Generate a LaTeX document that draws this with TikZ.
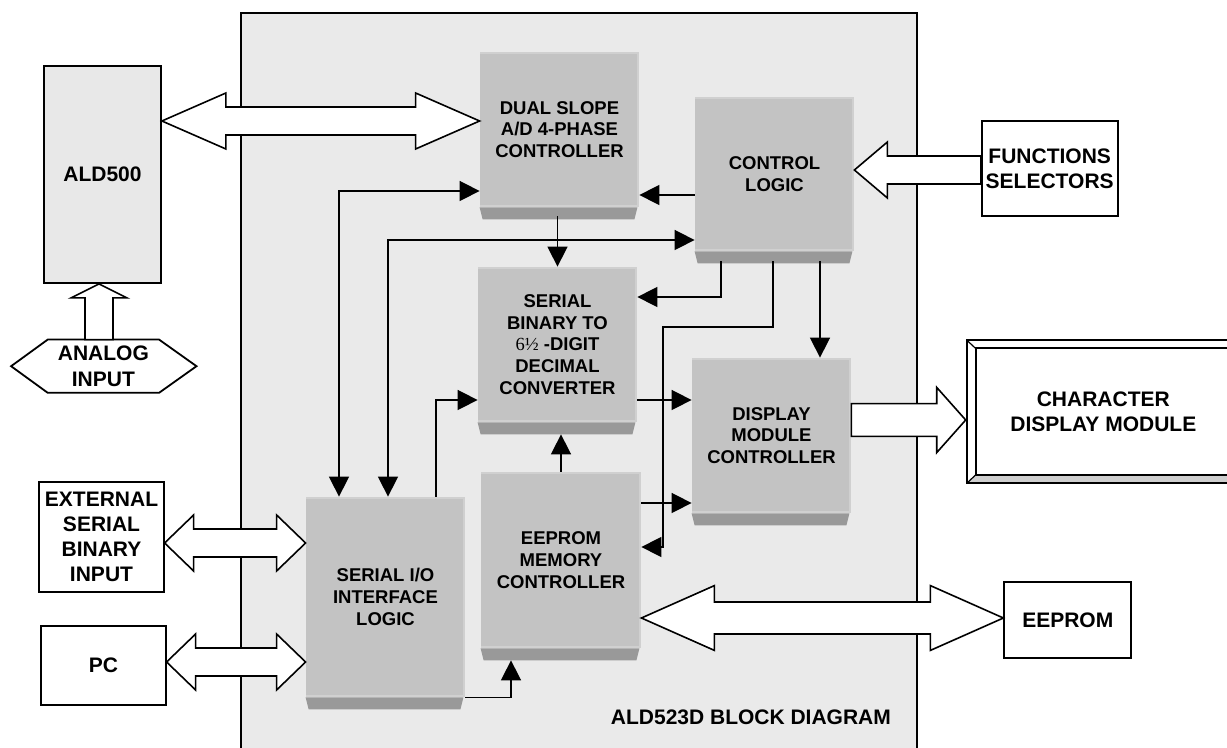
\documentclass[tikz,border=0pt]{standalone}
\usepackage{fontspec}
\setmainfont{Liberation Sans}
\newfontfamily\sixfont{Liberation Serif}
\usepackage{tikz}
\usetikzlibrary{calc}
\usetikzlibrary{arrows.meta}
\tikzset{>={Triangle[length=10pt,width=10pt]}}

\definecolor{boardgray}{RGB}{234,234,234}
\definecolor{aldgray}{RGB}{232,232,232}
\definecolor{chipbody}{RGB}{195,195,195}
\definecolor{chiplight}{RGB}{208,208,208}
\definecolor{chipdark}{RGB}{153,153,153}
\definecolor{bevelgray}{RGB}{206,206,206}

\newcommand{\chipfnt}{\fontsize{9.25}{10.85}\selectfont\bfseries}
\newcommand{\boxfnt}{\fontsize{10.5}{12.6}\selectfont\bfseries}

\tikzset{
  chip/.style={rectangle, fill=chipbody, minimum width=79.5pt, minimum height=#1,
    inner sep=0pt, align=center, font=\chipfnt,
    path picture={
      \fill[chiplight] (path picture bounding box.north west) rectangle ([yshift=-1pt]path picture bounding box.north east);
      \fill[chiplight] ([xshift=-1.2pt]path picture bounding box.north east) rectangle (path picture bounding box.south east);
      \fill[chiplight] ([yshift=1pt]path picture bounding box.south west) rectangle (path picture bounding box.south east);
    }},
  outbox/.style 2 args={rectangle, draw, line width=0.9pt, fill=white, inner sep=0pt,
    align=center, font=\boxfnt, minimum width=#1, minimum height=#2},
  bevel/.style={path picture={
      \fill[bevelgray] (path picture bounding box.south west) -- ([shift={(4.5pt,4.2pt)}]path picture bounding box.south west)
        -- ([shift={(-4.5pt,4.2pt)}]path picture bounding box.south east) -- (path picture bounding box.south east) -- cycle;
      \draw[line width=0.9pt] ([shift={(4.5pt,-4.2pt)}]path picture bounding box.north west) rectangle ([shift={(-4.5pt,4.2pt)}]path picture bounding box.south east);
      \draw[line width=0.6pt] (path picture bounding box.north west) -- ([shift={(4.5pt,-4.2pt)}]path picture bounding box.north west);
      \draw[line width=0.6pt] (path picture bounding box.south west) -- ([shift={(4.5pt,4.2pt)}]path picture bounding box.south west);
    }},
  wire/.style={line width=0.8pt},
  fatbody/.style={draw, fill=white, line width=0.8pt, line join=miter},
  fatone/.style args={#1/#2/#3}{fatbody, to path={
      -- ($(\tikztostart)!#3!90:(\tikztotarget)$)
      -- ($(\tikztotarget)!#1!(\tikztostart)!#3!90:(\tikztotarget)$)
      -- ($(\tikztotarget)!#1!(\tikztostart)!#2!90:(\tikztotarget)$)
      -- (\tikztotarget)
      -- ($(\tikztotarget)!#1!(\tikztostart)!#2!-90:(\tikztotarget)$)
      -- ($(\tikztotarget)!#1!(\tikztostart)!#3!-90:(\tikztotarget)$)
      -- ($(\tikztostart)!#3!-90:(\tikztotarget)$)
      -- cycle}},
  fatboth/.style args={#1/#2/#3}{fatbody, to path={
      -- ($(\tikztostart)!#1!(\tikztotarget)!#2!90:(\tikztotarget)$)
      -- ($(\tikztostart)!#1!(\tikztotarget)!#3!90:(\tikztotarget)$)
      -- ($(\tikztotarget)!#1!(\tikztostart)!#3!90:(\tikztotarget)$)
      -- ($(\tikztotarget)!#1!(\tikztostart)!#2!90:(\tikztotarget)$)
      -- (\tikztotarget)
      -- ($(\tikztotarget)!#1!(\tikztostart)!#2!-90:(\tikztotarget)$)
      -- ($(\tikztotarget)!#1!(\tikztostart)!#3!-90:(\tikztotarget)$)
      -- ($(\tikztostart)!#1!(\tikztotarget)!#3!-90:(\tikztotarget)$)
      -- ($(\tikztostart)!#1!(\tikztotarget)!#2!-90:(\tikztotarget)$)
      -- cycle}}
}

\begin{document}
\begin{tikzpicture}[x=0.5pt, y=-0.5pt]
\useasboundingbox (0,0) rectangle (1227,748);
% board
\fill[boardgray] (241,13) rectangle (917,748);
\draw[line width=0.9pt] (241,748) |- (917,13) -- (917,748);

\node[chip=77.5pt] (dual) at (559.5,129.5) {DUAL SLOPE\\A/D 4-PHASE\\CONTROLLER};
\node[chip=77pt] (ctrl) at (774.5,174) {CONTROL\\LOGIC};
\node[chip=77.5pt] (conv) at (557.5,344.5) {SERIAL\\BINARY TO\\{\sixfont\mdseries 6½} -DIGIT\\DECIMAL\\CONVERTER};
\node[chip=77.5pt] (disp) at (771.5,435.5) {DISPLAY\\MODULE\\CONTROLLER};
\node[chip=100pt] (sio) at (385.5,597) {SERIAL I/O\\INTERFACE\\LOGIC};
\node[chip=88pt, minimum width=80pt] (eem) at (561,560) {EEPROM\\MEMORY\\CONTROLLER};
\foreach \c in {dual,ctrl,conv,disp,sio,eem}
  \fill[chipdark] (\c.south west) -- ([xshift=-1pt]\c.south east) -- ([shift={(-2.5pt,-6pt)}]\c.south east)
    -- ([shift={(1.5pt,-6pt)}]\c.south west) -- cycle;

\node[outbox={58.5pt}{108.5pt}, fill=aldgray] (ald) at (102.5,174.5) {ALD500};
\node[minimum width=55.3pt, minimum height=26.2pt, inner sep=0pt, align=center, font=\boxfnt] (analog) at (103.4,366.2) {ANALOG\\INPUT};
\draw[line width=0.9pt] (analog.north west) -- (analog.north east) -- ([xshift=18.7pt]analog.east)
  -- (analog.south east) -- (analog.south west) -- ([xshift=-18.3pt]analog.west) -- cycle;
\node[outbox={62.2pt}{55pt}] (ext) at (101.5,536.7) {EXTERNAL\\SERIAL\\BINARY\\INPUT};
\node[outbox={62.2pt}{39.5pt}] (pc) at (103.5,665.5) {PC};
\node[outbox={68pt}{47.5pt}] (fun) at (1049.7,168.5) {FUNCTIONS\\SELECTORS};
\node[outbox={136.7pt}{71.7pt}, bevel] (char) at (1103.3,411.7) {CHARACTER\\DISPLAY MODULE};
\node[outbox={63.5pt}{38.3pt}] (eeprom) at (1067.8,620) {EEPROM};

% signals
\draw[wire, ->] (ctrl.west |- 0,195) -- (dual.east |- 0,195);
\draw[wire, <->] (sio.north -| 339,0) |- (dual.west |- 0,191);
\draw[wire, <->] (sio.north -| 388,0) |- (ctrl.west |- 0,240);
\draw[wire, ->, shorten <=4.5pt] (dual.south -| conv.north) -- (conv.north);
\draw[wire, ->, shorten <=5pt] (ctrl.south -| 721,0) |- (conv.east |- 0,297);
\draw[wire, ->, shorten <=5pt] (ctrl.south -| 773,0) |- (663,327) |- (eem.east |- 0,547);
\draw[wire, ->, shorten <=5pt] (ctrl.south -| 820,0) -- (disp.north -| 820,0);
\draw[wire, ->] (conv.east |- 0,400) -- (disp.west |- 0,400);
\draw[wire, ->] (eem.east |- 0,503) -- (disp.west |- 0,503);
\draw[wire, ->] (sio.north -| 436,0) |- (conv.west |- 0,400);
\draw[wire, ->, shorten >=6pt] (eem.north) -- (eem.north |- conv.south);
\draw[wire, ->, shorten >=6pt] (sio.south east) -| (eem.south -| 511,0);

% buses
\draw[fatboth=32pt/14pt/7pt] (ald.east |- 0,121) to (dual.west |- 0,121);
\draw[fatone=7pt/14pt/7pt] (analog.north -| 99,0) to (ald.south -| 99,0);
\draw[fatone=16.5pt/14pt/7pt] (fun.west |- 0,170) to (ctrl.east |- 0,170);
\draw[fatone=14.5pt/16.3pt/8.2pt] (disp.east |- 0,420) to (char.west |- 0,420);
\draw[fatboth=14.5pt/14pt/7pt] (ext.east |- 0,543) to (sio.west |- 0,543);
\draw[fatboth=14.5pt/14pt/7pt] (pc.east |- 0,662) to (sio.west |- 0,662);
\draw[fatboth=36.5pt/16.2pt/8pt] (eem.east |- 0,618) to (eeprom.west |- 0,618);

\node[anchor=east, font=\boxfnt] (title) at (898,717) {ALD523D BLOCK DIAGRAM};
\end{tikzpicture}
\end{document}
